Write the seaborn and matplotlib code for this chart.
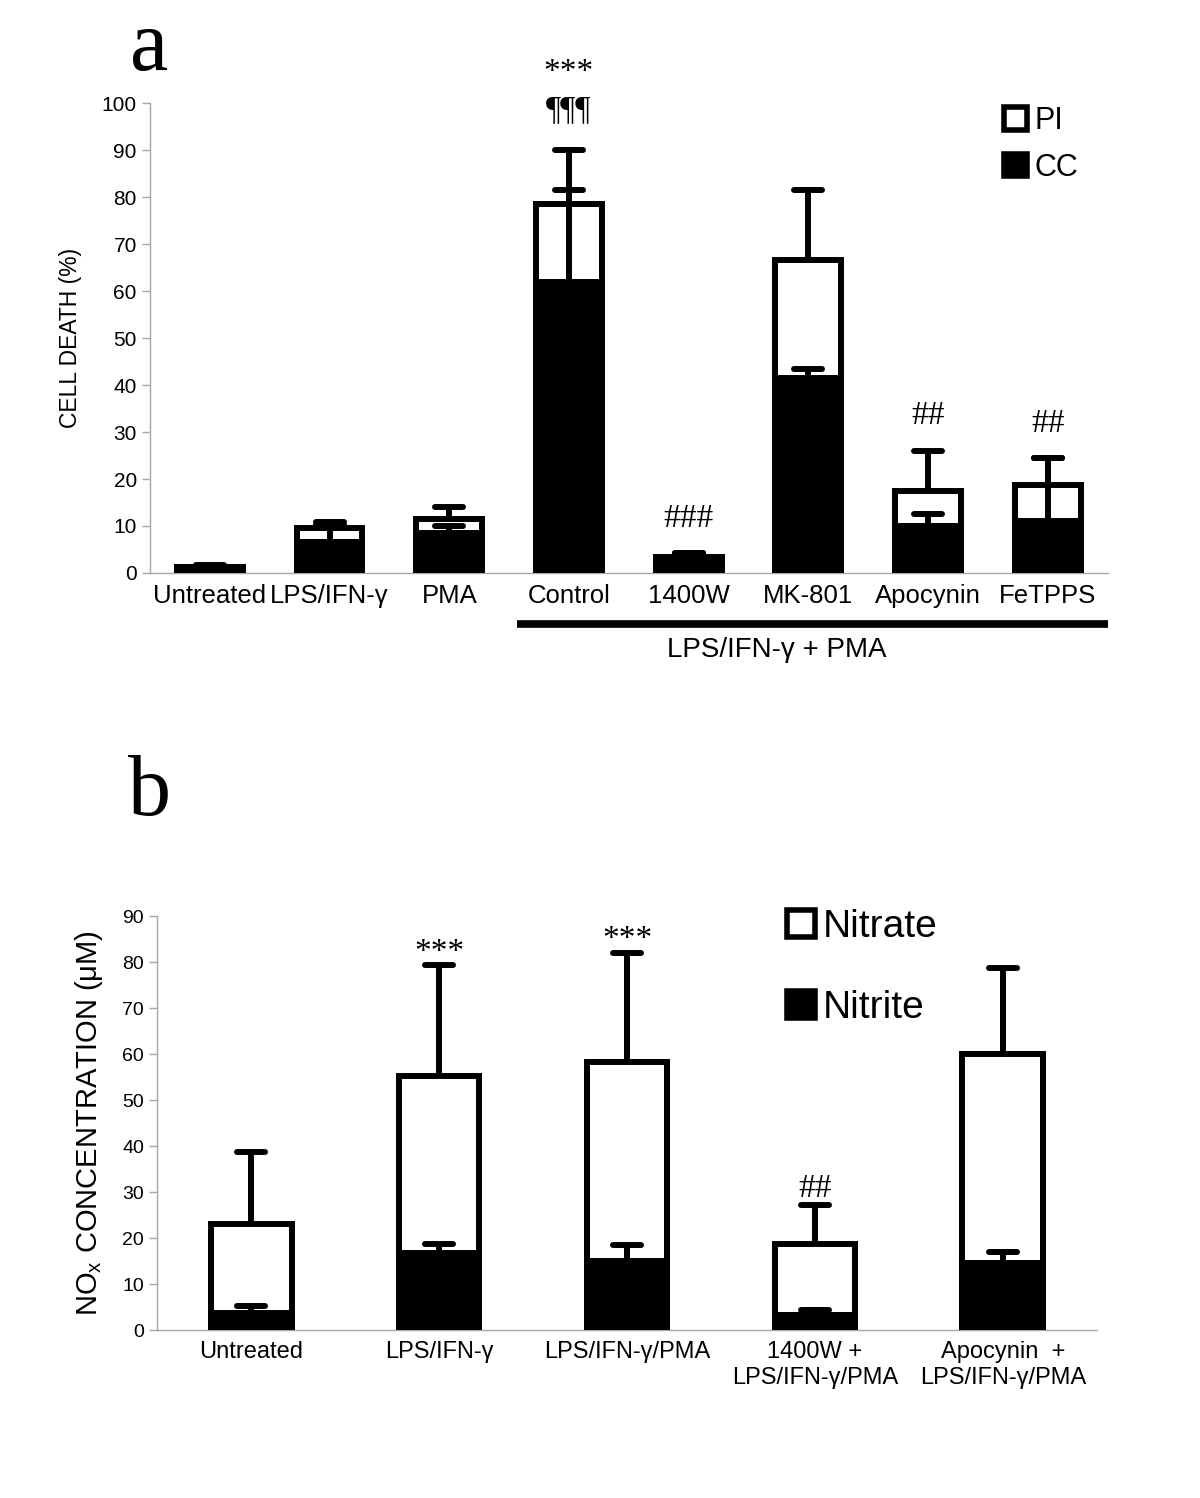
import numpy as np
import matplotlib
matplotlib.use("Agg")
import matplotlib.pyplot as plt
import matplotlib.transforms as mtransforms
from matplotlib.markers import MarkerStyle
from matplotlib.patches import Patch
import seaborn as sns

# Panel a - cell death (%)
groups_a = ["Untreated", "LPS/IFN-γ", "PMA", "Control", "1400W", "MK-801", "Apocynin", "FeTPPS"]
cc_a = [0.9, 6.5, 8.5, 62.0, 2.5, 41.5, 10.0, 11.0]
pi_a = [0.4, 3.0, 3.0, 16.5, 1.0, 25.0, 7.5, 7.8]
cc_err_a = [0.5, 4.3, 1.5, 19.5, 1.7, 2.0, 2.5, 13.5]
pi_err_a = [0.3, 0.8, 2.5, 11.5, 0.7, 15.0, 8.5, 5.7]
marks_a = [[], [], [], ["¶¶¶", "***"], ["###"], [], ["##"], ["##"]]

# Panel b - NOx concentration (uM)
groups_b = ["Untreated", "LPS/IFN-γ", "LPS/IFN-γ/PMA",
            "1400W +\nLPS/IFN-γ/PMA", "Apocynin  +\nLPS/IFN-γ/PMA"]
nitrite_b = [3.7, 16.8, 15.0, 3.3, 14.5]
nitrate_b = [19.3, 38.5, 43.2, 15.5, 45.5]
nitrite_err_b = [1.6, 2.0, 3.5, 1.2, 2.5]
nitrate_err_b = [15.7, 24.0, 23.8, 8.5, 18.8]
marks_b = [[], ["***"], ["***"], ["##"], []]

sns.set_style("white")
plt.rcParams["font.family"] = ["Liberation Sans", "DejaVu Sans"]
plt.rcParams["mathtext.default"] = "regular"
plt.rcParams["text.color"] = "black"
plt.rcParams["axes.labelcolor"] = "black"
plt.rcParams["xtick.labelcolor"] = "black"
plt.rcParams["ytick.labelcolor"] = "black"

gray = "#a6a6a6"
lw = 4.3


def upper_errorbar(ax, x, y, err):
    eb = ax.errorbar(x, y, yerr=[np.zeros(len(y)), err], fmt="none", ecolor="black",
                     elinewidth=lw, capsize=10, capthick=lw, zorder=5)
    for cap in eb[1]:
        if np.allclose(cap.get_ydata(), y):
            cap.set_visible(False)
        else:
            cap.set_marker(MarkerStyle("_", capstyle="round"))


def stacked(ax, groups, bottom, top, bottom_err, top_err, width, marks, pad, hash_pad, step):
    n = len(groups)
    total = np.array(bottom) + np.array(top)
    sns.barplot(x=groups, y=total, color="white", edgecolor="black", linewidth=lw,
                width=width, saturation=1, errorbar=None, ax=ax, zorder=2)
    sns.barplot(x=groups, y=bottom, color="black", edgecolor="black", linewidth=lw,
                width=width, saturation=1, errorbar=None, ax=ax, zorder=3)
    x = np.arange(n)
    upper_errorbar(ax, x, np.array(bottom, float), bottom_err)
    upper_errorbar(ax, x, total, top_err)
    tops = np.maximum(np.array(bottom) + np.array(bottom_err), total + np.array(top_err))
    for i, m in enumerate(marks):
        for j, s in enumerate(m):
            p = hash_pad if s.startswith("#") else pad
            ax.text(i, tops[i] + p + j * step, s, ha="center", va="baseline",
                    family="Liberation Serif", fontsize=24, color="black", clip_on=False)
    ax.set_xlim(-0.5, n - 0.5)
    ax.set_xticks(np.arange(-0.5, n), minor=True)
    ax.tick_params(axis="x", which="major", length=0, pad=8)
    ax.tick_params(axis="x", which="minor", length=6, width=1, color=gray, direction="out")
    ax.tick_params(axis="y", length=6, width=1, color=gray, direction="out", left=True)
    sns.despine(ax=ax)
    for sp in ["left", "bottom"]:
        ax.spines[sp].set_color(gray)
        ax.spines[sp].set_linewidth(1)


fig = plt.figure(figsize=(12, 14.98), dpi=100)

# ---- panel a
ax_a = fig.add_axes([0.125, 0.6175, 0.798, 0.3137])
stacked(ax_a, groups_a, cc_a, pi_a, cc_err_a, pi_err_a, 0.55, marks_a, 6.8, 5.6, 7.8)
ax_a.set_ylim(0, 100)
ax_a.set_yticks(range(0, 101, 10))
ax_a.tick_params(axis="y", labelsize=15)
ax_a.tick_params(axis="x", labelsize=18.5)
ax_a.set_ylabel("CELL DEATH (%)", fontsize=16.5, labelpad=14)
trans = mtransforms.blended_transform_factory(ax_a.transData, ax_a.transAxes)
ax_a.plot([2.57, 7.5], [-0.108, -0.108], color="black", lw=5.5, transform=trans,
          clip_on=False, solid_capstyle="butt")
ax_a.text(4.74, -0.164, "LPS/IFN-γ + PMA", transform=trans, ha="center", va="center",
          fontsize=20)
ax_a.legend(handles=[Patch(facecolor="white", edgecolor="black", lw=4),
                     Patch(facecolor="black", edgecolor="black", lw=4)],
            labels=["PI", "CC"], loc="center left", bbox_to_anchor=(0.876, 0.912),
            frameon=False, fontsize=22, handlelength=0.75, handleheight=0.75,
            handletextpad=0.25, labelspacing=0.55, borderpad=0)

# ---- panel b
ax_b = fig.add_axes([0.131, 0.112, 0.783, 0.2765])
stacked(ax_b, groups_b, nitrite_b, nitrate_b, nitrite_err_b, nitrate_err_b, 0.43, marks_b, 1.0, 1.6, 0)
ax_b.set_ylim(0, 90)
ax_b.set_yticks(range(0, 91, 10))
ax_b.tick_params(axis="y", labelsize=14)
ax_b.tick_params(axis="x", labelsize=17)
ax_b.set_ylabel("NO$_x$ CONCENTRATION (μM)", fontsize=21, labelpad=12)
ax_b.legend(handles=[Patch(facecolor="white", edgecolor="black", lw=4),
                     Patch(facecolor="black", edgecolor="black", lw=4)],
            labels=["Nitrate", "Nitrite"], loc="center left", bbox_to_anchor=(0.65, 0.876),
            frameon=False, fontsize=28, handlelength=0.7, handleheight=0.7,
            handletextpad=0.2, labelspacing=1.15, borderpad=0)

fig.text(0.124, 0.953, "a", family="Liberation Serif", fontsize=62, ha="center", va="baseline")
fig.text(0.125, 0.456, "b", family="Liberation Serif", fontsize=62, ha="center", va="baseline")

fig.savefig("out.png", dpi=100)
